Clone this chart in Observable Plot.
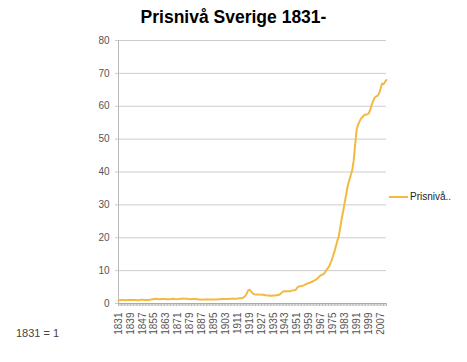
<!DOCTYPE html>
<html>
<head>
<meta charset="utf-8">
<script src="https://cdn.jsdelivr.net/npm/d3@7"></script>
<script src="https://cdn.jsdelivr.net/npm/@observablehq/plot@0.6"></script>
<style>
  body { margin: 0; background: #fff; }
  #wrap { position: relative; width: 467px; height: 362px; font-family: "Liberation Sans", Arial, sans-serif; }
  #title { position: absolute; left: 0; width: 467px; top: 7px; text-align: center; font-weight: bold; font-size: 17.5px; color: #000; }
  #legend { position: absolute; left: 389px; top: 191px; font-size: 10px; color: #222; display: flex; align-items: center; }
  #legend .sw { width: 19px; height: 2px; background: #f4b940; margin-right: 2px; }
  #caption { position: absolute; left: 16px; top: 327px; font-size: 11px; color: #444; }
</style>
</head>
<body>
<div id="wrap">
  <div id="chart"></div>
  <div id="title">Prisnivå Sverige 1831-</div>
  <div id="legend"><div class="sw"></div><div>Prisnivå..</div></div>
  <div id="caption">1831 = 1</div>
</div>
<script>
const seriesName = "Prisnivå..";
const years = d3.range(1831, 2012);
const prices = [
  1.00, 1.02, 1.05, 1.08, 1.03, 1.00, 1.04, 1.10, 1.12, 1.08,
  1.06, 1.10, 1.05, 1.02, 1.06, 1.12, 1.18, 1.10, 1.05, 1.04,
  1.08, 1.12, 1.20, 1.32, 1.40, 1.45, 1.38, 1.30, 1.28, 1.34,
  1.38, 1.36, 1.30, 1.28, 1.30, 1.34, 1.40, 1.42, 1.36, 1.32,
  1.35, 1.40, 1.48, 1.50, 1.44, 1.46, 1.44, 1.36, 1.30, 1.36,
  1.38, 1.36, 1.34, 1.30, 1.24, 1.20, 1.16, 1.18, 1.22, 1.24,
  1.26, 1.24, 1.20, 1.18, 1.18, 1.20, 1.22, 1.26, 1.30, 1.34,
  1.34, 1.34, 1.35, 1.36, 1.38, 1.42, 1.46, 1.46, 1.46, 1.48,
  1.50, 1.56, 1.56, 1.60, 1.85, 2.20, 2.90, 3.90, 4.20, 3.70,
  3.20, 2.80, 2.70, 2.70, 2.75, 2.70, 2.65, 2.65, 2.60, 2.50,
  2.45, 2.40, 2.35, 2.35, 2.40, 2.42, 2.50, 2.55, 2.65, 3.00,
  3.45, 3.75, 3.75, 3.70, 3.70, 3.70, 3.85, 4.00, 4.05, 4.10,
  4.80, 5.20, 5.25, 5.30, 5.45, 5.70, 5.90, 6.15, 6.20, 6.45,
  6.60, 6.90, 7.10, 7.40, 7.80, 8.30, 8.60, 8.80, 9.10, 9.70,
  10.4, 11.0, 11.8, 13.0, 14.3, 15.7, 17.4, 19.1, 20.5, 23.3,
  26.0, 28.3, 30.9, 33.4, 35.9, 37.5, 39.1, 40.6, 43.6, 48.6,
  53.0, 54.5, 55.5, 56.3, 56.8, 57.3, 57.5, 57.5, 57.8, 58.8,
  60.4, 61.5, 62.6, 63.0, 63.2, 63.8, 65.3, 66.9, 66.7, 67.4,
  68.0
];
const yTicks = [0, 10, 20, 30, 40, 50, 60, 70, 80];
const labelStep = 8;

const data = years.map((year, i) => ({year, value: prices[i]}));

const chart = Plot.plot({
  width: 467,
  height: 362,
  marginLeft: 118,
  marginRight: 81,
  marginTop: 40,
  marginBottom: 59,
  style: {fontFamily: "Liberation Sans, Arial, sans-serif", background: "#fff"},
  x: {type: "linear", domain: [1831, 2011], label: null},
  y: {domain: [0, 80], label: null},
  marks: [
    Plot.gridY(yTicks, {stroke: "#cccccc", strokeOpacity: 1}),
    Plot.axisY(yTicks, {tickSize: 3, tickPadding: 6, stroke: "#cccccc", fontSize: 10, fill: "#555", label: null, tickFormat: d => d}),
    Plot.ruleX([1831], {stroke: "#bbbbbb"}),
    Plot.axisX({ticks: years, tickSize: 3, tickPadding: 6, tickRotate: -90, stroke: "#bbbbbb", fontSize: 10, fill: "#555", label: null,
      tickFormat: d => ((d - 1831) % labelStep === 0 ? String(d) : "")}),
    Plot.ruleY([0], {stroke: "#aaaaaa"}),
    Plot.line(data, {x: "year", y: "value", stroke: "#f4b940", strokeWidth: 2})
  ]
});
document.getElementById("chart").appendChild(chart);
</script>
</body>
</html>
